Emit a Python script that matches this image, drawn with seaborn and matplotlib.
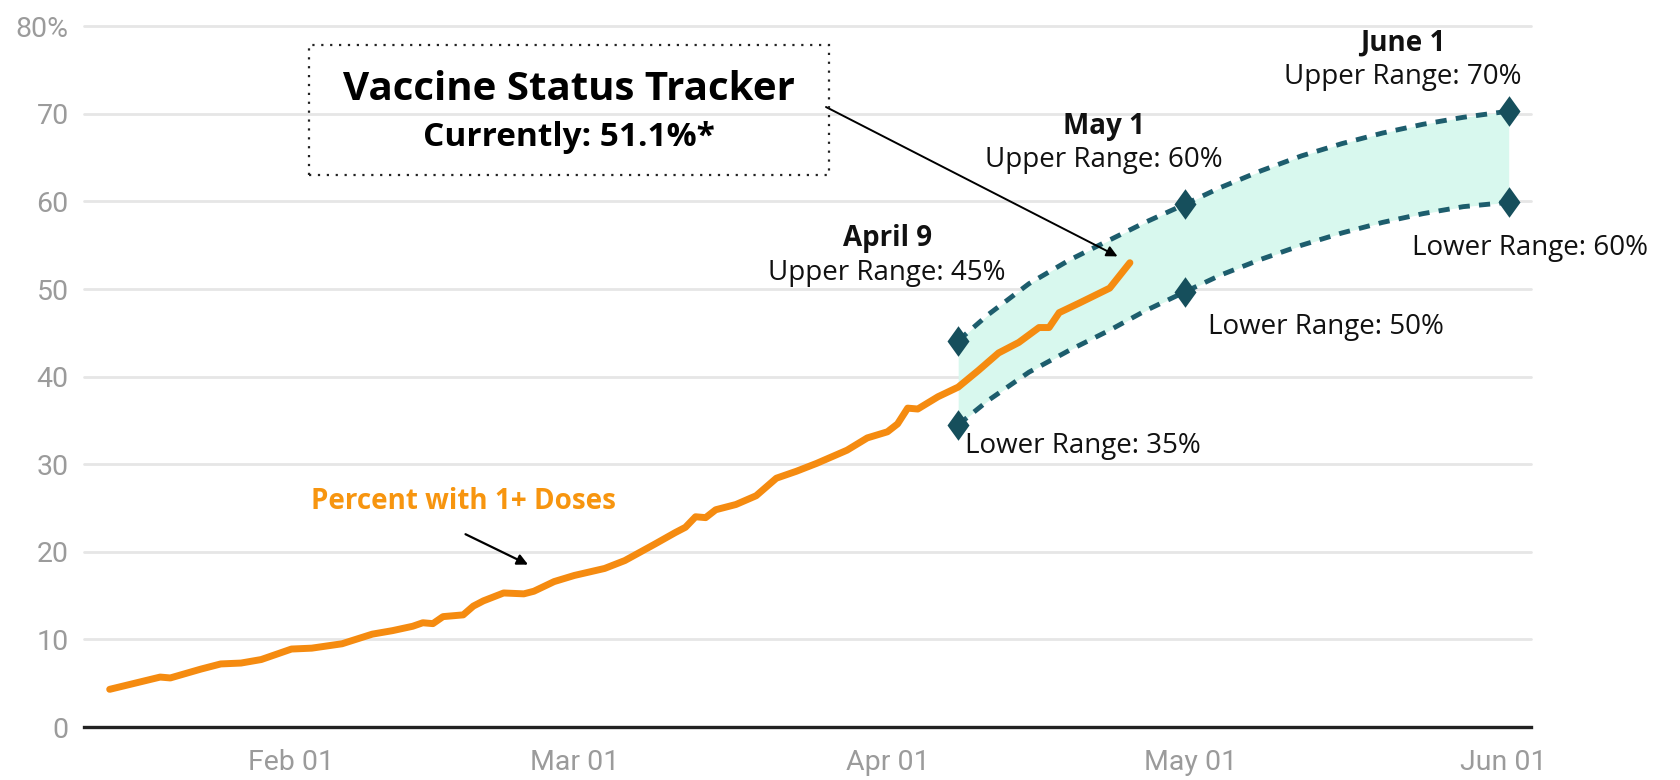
import numpy as np
import pandas as pd
import matplotlib
matplotlib.use("Agg")
import matplotlib.pyplot as plt
import matplotlib.dates as mdates
from matplotlib.patches import Rectangle
from matplotlib.path import Path
import seaborn as sns

# share of population with at least one dose
dose_dates = ["2021-01-14", "2021-01-19", "2021-01-20", "2021-01-23", "2021-01-25", "2021-01-27",
              "2021-01-29", "2021-01-30", "2021-02-01", "2021-02-03", "2021-02-06", "2021-02-09",
              "2021-02-11", "2021-02-13", "2021-02-14", "2021-02-15", "2021-02-16", "2021-02-18",
              "2021-02-19", "2021-02-20", "2021-02-22", "2021-02-24", "2021-02-25", "2021-02-27",
              "2021-03-01", "2021-03-04", "2021-03-06", "2021-03-09", "2021-03-11", "2021-03-12",
              "2021-03-13", "2021-03-14", "2021-03-15", "2021-03-17", "2021-03-19", "2021-03-21",
              "2021-03-23", "2021-03-25", "2021-03-28", "2021-03-30", "2021-04-01", "2021-04-02",
              "2021-04-03", "2021-04-04", "2021-04-06", "2021-04-08", "2021-04-10", "2021-04-12",
              "2021-04-14", "2021-04-16", "2021-04-17", "2021-04-18", "2021-04-20", "2021-04-23",
              "2021-04-25"]
dose_pct = [4.3, 5.7, 5.6, 6.6, 7.2, 7.3,
            7.7, 8.1, 8.9, 9.0, 9.5, 10.6,
            11.0, 11.5, 11.9, 11.8, 12.6, 12.8,
            13.8, 14.4, 15.3, 15.2, 15.5, 16.6,
            17.3, 18.1, 19.0, 20.9, 22.2, 22.8,
            24.0, 23.9, 24.8, 25.4, 26.4, 28.4,
            29.2, 30.1, 31.6, 33.0, 33.7, 34.6,
            36.4, 36.3, 37.7, 38.8, 40.7, 42.7,
            43.9, 45.6, 45.6, 47.3, 48.4, 50.1,
            53.0]

# projected range curves
range_dates = ["2021-04-08 00:00", "2021-04-11 00:00", "2021-04-15 00:00", "2021-04-19 00:00",
               "2021-04-23 00:00", "2021-04-26 12:00", "2021-04-30 12:00", "2021-05-04 00:00",
               "2021-05-08 00:00", "2021-05-12 00:00", "2021-05-16 00:00", "2021-05-20 00:00",
               "2021-05-24 00:00", "2021-05-28 00:00", "2021-06-01 12:00"]
upper_pct = [44.1, 47.1, 50.6, 53.3, 55.6, 57.6, 59.7, 61.6,
             63.5, 65.2, 66.6, 67.8, 68.8, 69.6, 70.3]
lower_pct = [34.5, 37.3, 40.5, 43.0, 45.3, 47.5, 49.7, 51.6,
             53.4, 55.0, 56.4, 57.6, 58.6, 59.4, 59.9]

# milestone markers
milestone_dates = ["2021-04-08 00:00", "2021-04-30 12:00", "2021-06-01 12:00"]
milestone_names = ["April 9", "May 1", "June 1"]
milestone_upper = [44.1, 59.7, 70.3]
milestone_lower = [34.5, 49.7, 59.9]
upper_labels = ["Upper Range: 45%", "Upper Range: 60%", "Upper Range: 70%"]
lower_labels = ["Lower Range: 35%", "Lower Range: 50%", "Lower Range: 60%"]

y_ticks = [0, 10, 20, 30, 40, 50, 60, 70, 80]
y_ticklabels = ["0", "10", "20", "30", "40", "50", "60", "70", "80%"]

ORANGE = "#f58b10"
TEAL = "#1d5d6d"
DIAMOND = "#164f5c"
MINT = "#d8f8ee"
GRID = "#e6e6e6"
TICK = "#9b9b9b"

sns.set_theme(style="white")
plt.rcParams["font.family"] = ["Open Sans", "DejaVu Sans"]

dose = pd.DataFrame({"date": pd.to_datetime(dose_dates), "pct": dose_pct})
rng = pd.DataFrame({"date": pd.to_datetime(range_dates, format="%Y-%m-%d %H:%M"),
                    "upper": upper_pct, "lower": lower_pct})
ms = pd.DataFrame({"date": pd.to_datetime(milestone_dates, format="%Y-%m-%d %H:%M"),
                   "upper": milestone_upper, "lower": milestone_lower})

fig = plt.figure(figsize=(16.81, 7.80), dpi=100)
ax = fig.add_axes([84 / 1681, 53 / 780, (1531 - 84) / 1681, 700.8 / 780])

# band between projections
ax.fill_between(rng["date"], rng["lower"], rng["upper"], color=MINT, lw=0, zorder=1)

dash = (0, (2.3, 1.9))
sns.lineplot(data=rng, x="date", y="upper", ax=ax, color=TEAL, lw=3.5, linestyle=dash, zorder=2)
sns.lineplot(data=rng, x="date", y="lower", ax=ax, color=TEAL, lw=3.5, linestyle=dash, zorder=2)

sns.lineplot(data=dose, x="date", y="pct", ax=ax, color=ORANGE, lw=5, zorder=3,
             solid_joinstyle="round", solid_capstyle="round")

tall_diamond = Path([(0, 1), (0.72, 0), (0, -1), (-0.72, 0), (0, 1)],
                    [Path.MOVETO, Path.LINETO, Path.LINETO, Path.LINETO, Path.CLOSEPOLY])
for col in ["upper", "lower"]:
    ax.plot(ms["date"], ms[col], linestyle="none", marker=tall_diamond, markersize=22,
            color=DIAMOND, markeredgewidth=0, zorder=4)

# axes styling
ax.set_xlim(pd.Timestamp("2021-01-11 11:00"), pd.Timestamp("2021-06-03 17:00"))
ax.set_ylim(0, 80)
ax.set_yticks(y_ticks)
ax.set_yticklabels(y_ticklabels)
ax.xaxis.set_major_locator(mdates.MonthLocator(bymonth=[2, 3, 4, 5, 6]))
ax.xaxis.set_major_formatter(mdates.DateFormatter("%b %d"))
ax.tick_params(axis="both", length=0, labelsize=20.5, colors=TICK)
ax.tick_params(axis="y", pad=11)
ax.tick_params(axis="x", pad=16)
for lab in ax.get_xticklabels() + ax.get_yticklabels():
    lab.set_fontfamily(["Roboto", "DejaVu Sans"])
ax.set_xlabel("")
ax.set_ylabel("")
for s in ["top", "right", "left"]:
    ax.spines[s].set_visible(False)
ax.spines["bottom"].set_color("#222222")
ax.spines["bottom"].set_linewidth(2.4)
ax.spines["bottom"].set_zorder(5)
for yv in y_ticks[1:]:
    ax.axhline(yv, color=GRID, lw=2, zorder=0, clip_on=False)

# milestone labels
lab_kw = dict(textcoords="offset pixels", ha="center", va="center", fontsize=20, color="#111111")
up_off = [(-71, 68), (-82, 44), (-106, 34)]
name_off = [(-71, 102), (-82, 78), (-106, 68)]
low_off = [(125, -21), (140, -35), (21, -46)]
for i in range(3):
    d = ms["date"][i]
    ax.annotate(milestone_names[i], (d, milestone_upper[i]), xytext=name_off[i],
                fontweight="bold", **lab_kw)
    ax.annotate(upper_labels[i], (d, milestone_upper[i]), xytext=up_off[i], **lab_kw)
    ax.annotate(lower_labels[i], (d, milestone_lower[i]), xytext=low_off[i], **lab_kw)

# series label and arrow
fig.text(463 / 1681, 1 - 501 / 780, "Percent with 1+ Doses", color="#f7950f",
         fontsize=20, fontweight="bold", ha="center", va="center")
ax.annotate("", xy=(pd.Timestamp("2021-02-24 16:00"), 18.4), xytext=(463, 780 - 533),
            textcoords="figure pixels",
            arrowprops=dict(arrowstyle="-|>", color="black", lw=1.6, mutation_scale=16))

# tracker box
box = Rectangle((309 / 1681, 1 - 175 / 780), 520 / 1681, 130 / 780, transform=fig.transFigure,
                fill=False, edgecolor="#222222", lw=1.6, linestyle=(0, (1, 3)))
fig.patches.append(box)
fig.text(569 / 1681, 1 - 90 / 780, "Vaccine Status Tracker", fontsize=29, fontweight="bold",
         ha="center", va="center", color="black")
fig.text(569 / 1681, 1 - 137 / 780, "Currently: 51.1%*", fontsize=24, fontweight="bold",
         ha="center", va="center", color="black")
ax.annotate("", xy=(dose["date"].iloc[-1], dose["pct"].iloc[-1]), xytext=(826, 780 - 107),
            textcoords="figure pixels",
            arrowprops=dict(arrowstyle="-|>", color="black", lw=1.4, mutation_scale=16,
                            shrinkA=0, shrinkB=10))

fig.savefig("out.png", dpi=100)
